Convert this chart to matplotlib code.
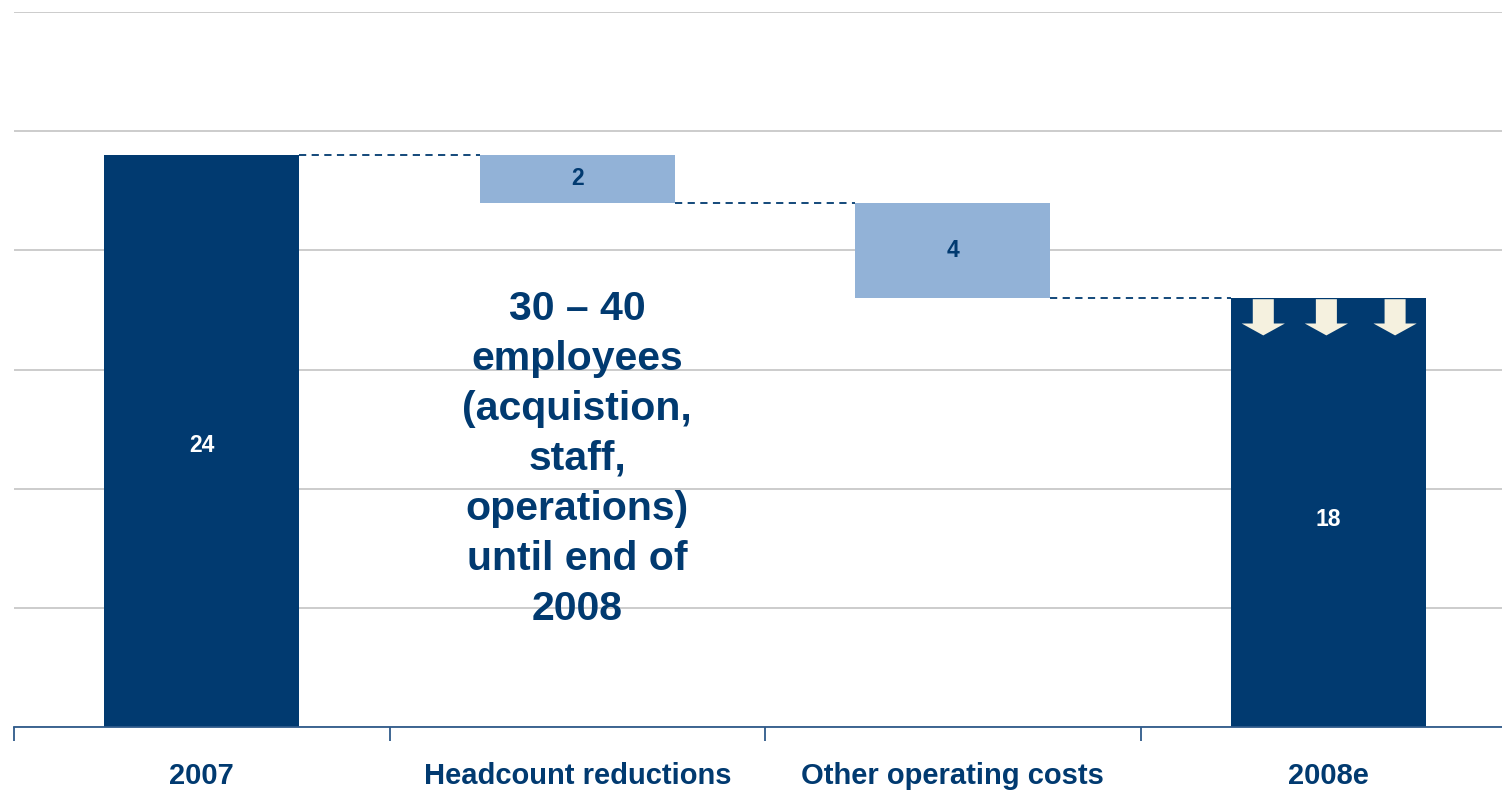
import matplotlib.pyplot as plt
from matplotlib.patches import FancyArrow

plt.rcParams['font.family'] = ['Liberation Sans', 'DejaVu Sans']
plt.rcParams['font.weight'] = 'bold'

categories = ["2007", "Headcount reductions", "Other operating costs", "2008e"]
start_value = 24
changes = [-2, -4]
end_value = 18
note = "30 \u2013 40\nemployees\n(acquistion,\nstaff,\noperations)\nuntil end of\n2008"

navy = "#013A70"
light = "#92B2D7"
cream = "#F5F1DF"

fig = plt.figure(figsize=(15.02, 7.9), dpi=100)
ax = fig.add_axes([14 / 1502, 63 / 790, 1.0, 715 / 790])

width = 0.52
# totals
ax.bar(0, start_value, width=width, color=navy, zorder=3)
ax.bar(3, end_value, width=width, color=navy, zorder=3)

# floating steps
level = start_value
tops = [start_value]
for i, ch in enumerate(changes):
    ax.bar(i + 1, -ch, bottom=level + ch, width=width, color=light, zorder=3)
    ax.text(i + 1, level + ch / 2, str(-ch), ha='center', va='center',
            color=navy, fontsize=16.5, fontweight='bold', zorder=4)
    level += ch
    tops.append(level)

# dashed connectors between the steps
for i, y in enumerate(tops):
    ax.plot([i + width / 2, i + 1 - width / 2], [y, y], color=navy, lw=1.3,
            ls=(0, (4, 3)), zorder=4)

ax.text(0, 11.8, str(start_value), ha='center', va='center',
        color='white', fontsize=16.5, fontweight='bold', zorder=4)
ax.text(3, 8.7, str(end_value), ha='center', va='center',
        color='white', fontsize=16.5, fontweight='bold', zorder=4)

# downward arrows on the 2008e bar
for dx in [-0.173, -0.005, 0.178]:
    arr = FancyArrow(3 + dx, end_value - 0.05, 0, -1.52, width=0.056,
                     head_width=0.115, head_length=0.5,
                     length_includes_head=True, color=cream, lw=0, zorder=5)
    ax.add_patch(arr)

ax.text(1.0, 11.25, note, ha='center', va='center', color=navy,
        fontsize=29.5, fontweight='bold', linespacing=1.4, zorder=4)

ax.set_xlim(-0.5, 3.5)
ax.set_ylim(0, 30)
ax.set_yticks(range(0, 31, 5))
ax.yaxis.grid(True, color='#C8C8C8', lw=1.3, zorder=0)
ax.tick_params(axis='y', length=0, labelleft=False)

ax.set_xticks([-0.5, 0.5, 1.5, 2.5], minor=False)
ax.set_xticklabels([])
ax.tick_params(axis='x', which='major', length=10, width=1.3, color='#2F5A8A',
               direction='out')
ax.set_xticks(range(4), minor=True)
ax.set_xticklabels(categories, minor=True, fontsize=21, fontweight='bold',
                   color=navy)
ax.tick_params(axis='x', which='minor', length=0, pad=25)

for s in ['top', 'right', 'left']:
    ax.spines[s].set_visible(False)
ax.spines['bottom'].set_color('#2F5A8A')
ax.spines['bottom'].set_linewidth(1.3)
ax.spines['bottom'].set_zorder(6)

fig.savefig("out.png", dpi=100)
